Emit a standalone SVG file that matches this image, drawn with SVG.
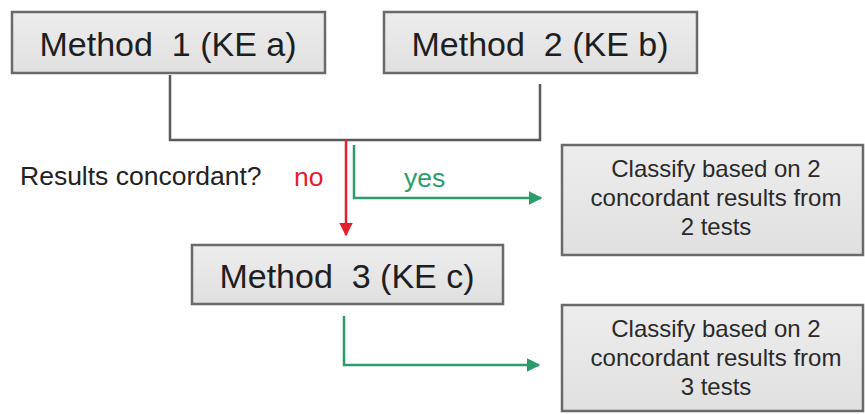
<svg xmlns="http://www.w3.org/2000/svg" width="865" height="414" viewBox="0 0 865 414">
  <style>
    .box { fill: url(#boxFill); stroke: #6a6a6a; stroke-width: 2.5; }
    .big { font-family: "Liberation Sans", Arial, sans-serif; font-size: 34px; fill: #1e1e1e; text-anchor: middle; white-space: pre; }
    .mid { font-family: "Liberation Sans", Arial, sans-serif; font-size: 24px; fill: #2a2a2a; text-anchor: middle; }
    .lbl { font-family: "Liberation Sans", Arial, sans-serif; font-size: 26.5px; }
    .gray { fill: none; stroke: #5a5a5a; stroke-width: 2.5; }
    .red { fill: none; stroke: #e3202c; stroke-width: 2.5; }
    .green { fill: none; stroke: #2b9c6c; stroke-width: 2.5; }
  </style>
  <defs>
    <linearGradient id="boxFill" x1="0" y1="0" x2="0" y2="1">
      <stop offset="0" stop-color="#ededed"/>
      <stop offset="1" stop-color="#e0e0e0"/>
    </linearGradient>
    <marker id="arrRed" viewBox="0 0 10 10" refX="9" refY="5" markerWidth="5.5" markerHeight="5.5" markerUnits="strokeWidth" orient="auto">
      <path d="M0,0 L10,5 L0,10 z" fill="#e3202c"/>
    </marker>
    <marker id="arrGreen" viewBox="0 0 10 10" refX="9" refY="5" markerWidth="5.5" markerHeight="5.5" markerUnits="strokeWidth" orient="auto">
      <path d="M0,0 L10,5 L0,10 z" fill="#2b9c6c"/>
    </marker>
  </defs>
  <rect width="865" height="414" fill="#ffffff"/>

  <g id="method1">
    <rect class="box" x="12" y="12" width="313" height="61"/>
    <text class="big" x="168" y="56">Method  1 (KE a)</text>
  </g>
  <g id="method2">
    <rect class="box" x="384" y="12" width="313" height="61"/>
    <text class="big" x="540" y="56">Method  2 (KE b)</text>
  </g>
  <g id="method3">
    <rect class="box" x="192" y="245" width="311" height="59"/>
    <text class="big" x="347" y="288">Method  3 (KE c)</text>
  </g>
  <g id="classify2">
    <rect class="box" x="562" y="145" width="301" height="110"/>
    <text class="mid" x="716" y="177">Classify based on 2</text>
    <text class="mid" x="716" y="206">concordant results from</text>
    <text class="mid" x="716" y="235">2 tests</text>
  </g>
  <g id="classify3">
    <rect class="box" x="562" y="305" width="301" height="106"/>
    <text class="mid" x="716" y="337">Classify based on 2</text>
    <text class="mid" x="716" y="366">concordant results from</text>
    <text class="mid" x="716" y="395">3 tests</text>
  </g>
  <g id="question">
    <text class="lbl" x="20" y="185" fill="#222">Results concordant?</text>
  </g>

  <g id="connectors">
    <path class="gray" d="M170,75 V140 H540 V84"/>
    <path class="red" d="M346,140 V235" marker-end="url(#arrRed)"/>
    <path class="green" d="M354,145 V198 H541" marker-end="url(#arrGreen)"/>
    <path class="green" d="M344,316 V365 H539" marker-end="url(#arrGreen)"/>
    <text class="lbl" x="294" y="186" fill="#e3202c">no</text>
    <text class="lbl" x="404" y="187" fill="#2b9c6c">yes</text>
  </g>
</svg>
